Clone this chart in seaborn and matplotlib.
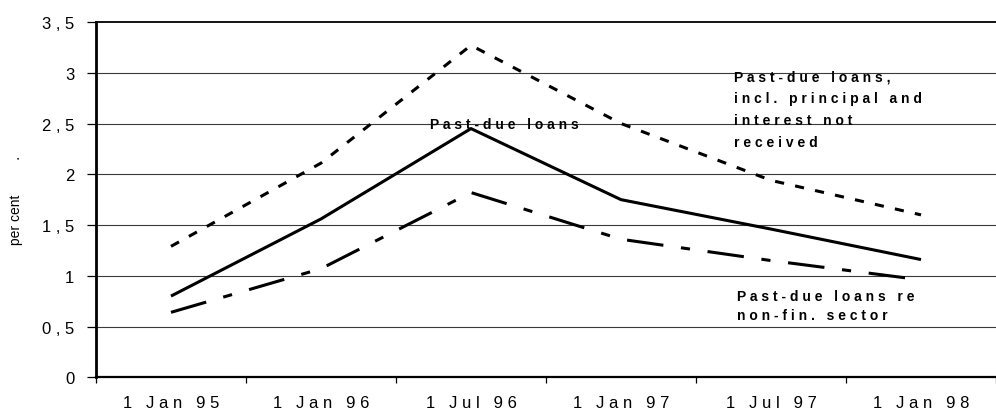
import numpy as np
import pandas as pd
import matplotlib
matplotlib.use("Agg")
import matplotlib.pyplot as plt
import seaborn as sns

# --- data -------------------------------------------------------------
dates = ["1 Jan 95", "1 Jan 96", "1 Jul 96", "1 Jan 97", "1 Jul 97", "1 Jan 98"]
past_due = [0.80, 1.56, 2.45, 1.75, 1.46, 1.16]
past_due_incl = [1.29, 2.11, 3.27, 2.50, 1.94, 1.60]
past_due_nonfin = [0.64, 1.07, 1.82, 1.36, 1.15, 0.96]
y_ticks = [0, 0.5, 1, 1.5, 2, 2.5, 3, 3.5]

series_names = ["Past-due loans",
                "Past-due loans,\nincl. principal and\ninterest not\nreceived",
                "Past-due loans re\nnon-fin. sector"]

df = pd.DataFrame({
    "date": dates * 3,
    "value": past_due + past_due_incl + past_due_nonfin,
    "series": ["solid"] * 6 + ["incl"] * 6 + ["nonfin"] * 6,
})


def spaced(text, word_gap="   "):
    """Letter-spaced version of a (possibly multi-line) string."""
    lines = []
    for line in text.split("\n"):
        words = [" ".join(w) for w in line.split(" ")]
        lines.append(word_gap.join(words))
    return "\n".join(lines)


def fmt(v):
    s = f"{v:g}".replace(".", ",")
    return spaced(s)


# --- figure -----------------------------------------------------------
sns.set_style("white")
plt.rcParams["font.family"] = ["Liberation Sans", "DejaVu Sans"]

W, H = 996, 414
fig = plt.figure(figsize=(W / 100, H / 100), dpi=100)
ax = fig.add_axes([96 / W, 35.7 / H, 900 / W, 355.3 / H])

sns.lineplot(
    data=df, x="date", y="value", style="series",
    dashes={"solid": "", "incl": (3, 3.7), "nonfin": (12, 5.8, 3, 5.8)},
    color="black", linewidth=2.2, sort=False, errorbar=None,
    legend=False, ax=ax,
)
for line in ax.get_lines():
    line.set_dash_capstyle("butt")
    line.set_solid_capstyle("butt")

# axes limits and ticks
ax.set_ylim(0, 3.5)
ax.set_xlim(-0.5, -0.5 + 900 / 151.8)
ax.set_yticks(y_ticks, labels=[fmt(v) for v in y_ticks])
ax.set_xticks(range(len(dates)), labels=[spaced(d) for d in dates])
ax.set_xticks(np.arange(-0.5, len(dates), 1.0), minor=True)
ax.tick_params(axis="x", which="major", length=0, pad=13, labelsize=12,
               labelcolor="black")
ax.tick_params(axis="x", which="minor", length=4, width=0.9,
               direction="out", color="black", bottom=True)
ax.tick_params(axis="y", which="major", length=6.5, width=0.9,
               direction="out", color="black", pad=9, labelsize=12,
               labelcolor="black", left=True)

ax.set_xlabel("")
ax.set_ylabel("per cent         .", fontsize=10, color="black")
ax.yaxis.set_label_coords(-0.081, 0.5)

# grid and frame
ax.grid(False)
for v in y_ticks[1:-1]:
    ax.axhline(v, color="#3a3a3a", linewidth=0.8, zorder=0.5)
for side in ["left", "bottom"]:
    ax.spines[side].set_color("black")
ax.spines["left"].set_linewidth(2.0)
ax.spines["bottom"].set_linewidth(1.6)
ax.spines["top"].set_linewidth(1.3)
ax.spines["top"].set_color("black")
ax.spines["right"].set_visible(False)

# series labels
txt = dict(fontsize=10, fontweight="bold", color="black")
ax.text(1.73, 2.50, spaced(series_names[0]), ha="left", va="center", **txt)
ax.text(3.756, 2.64, spaced(series_names[1]), ha="left", va="center",
        linespacing=1.72, **txt)
ax.text(3.775, 0.708, spaced(series_names[2]), ha="left", va="center",
        linespacing=1.42, **txt)

fig.savefig("out.png", dpi=100)
